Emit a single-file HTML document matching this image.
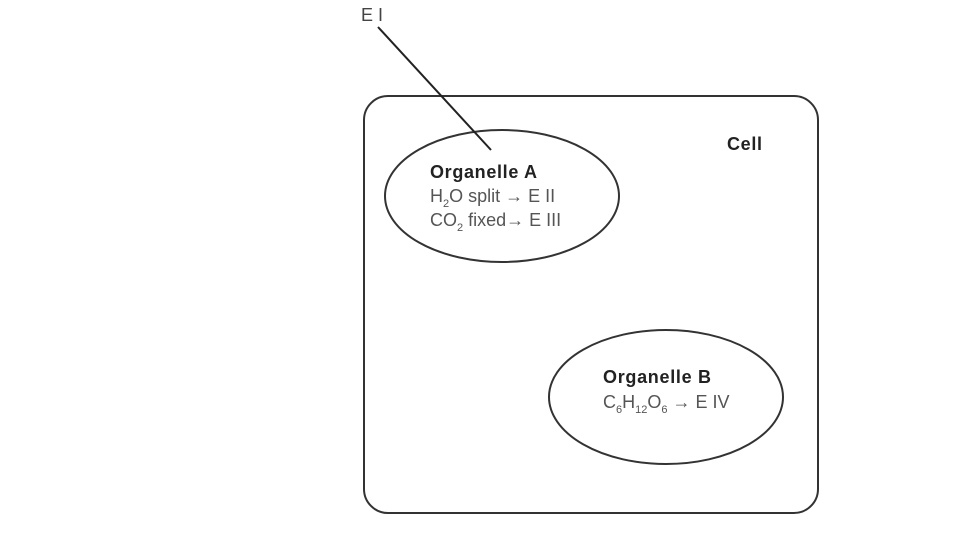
<!DOCTYPE html>
<html><head><style>
body{margin:0;background:#fff;}
svg text{font-family:"Liberation Sans",sans-serif;}
</style></head><body>
<svg width="960" height="540" viewBox="0 0 960 540">
<rect x="364" y="96" width="454" height="417" rx="24" fill="none" stroke="#333" stroke-width="2"/>
<ellipse cx="502" cy="196" rx="117" ry="66" fill="none" stroke="#333" stroke-width="2"/>
<ellipse cx="666" cy="397" rx="117" ry="67" fill="none" stroke="#333" stroke-width="2"/>
<line x1="378" y1="27" x2="491" y2="150" stroke="#222" stroke-width="2"/>
<text x="361" y="21" font-size="18" fill="#444">E I</text>
<text x="727" y="150" font-size="18" font-weight="bold" fill="#222" textLength="35">Cell</text>
<text x="430" y="178" font-size="18" font-weight="bold" fill="#222" textLength="107">Organelle A</text>
<text x="430" y="202" font-size="18" fill="#555">H<tspan font-size="11" dy="5">2</tspan><tspan dy="-5">O split → E II</tspan></text>
<text x="430" y="226" font-size="18" fill="#555">CO<tspan font-size="11" dy="5">2</tspan><tspan dy="-5"> fixed→ E III</tspan></text>
<text x="603" y="383" font-size="18" font-weight="bold" fill="#222" textLength="108">Organelle B</text>
<text x="603" y="408" font-size="18" fill="#555">C<tspan font-size="11" dy="5">6</tspan><tspan dy="-5">H</tspan><tspan font-size="11" dy="5">12</tspan><tspan dy="-5">O</tspan><tspan font-size="11" dy="5">6</tspan><tspan dy="-5">  → E IV</tspan></text>
</svg>
</body></html>
